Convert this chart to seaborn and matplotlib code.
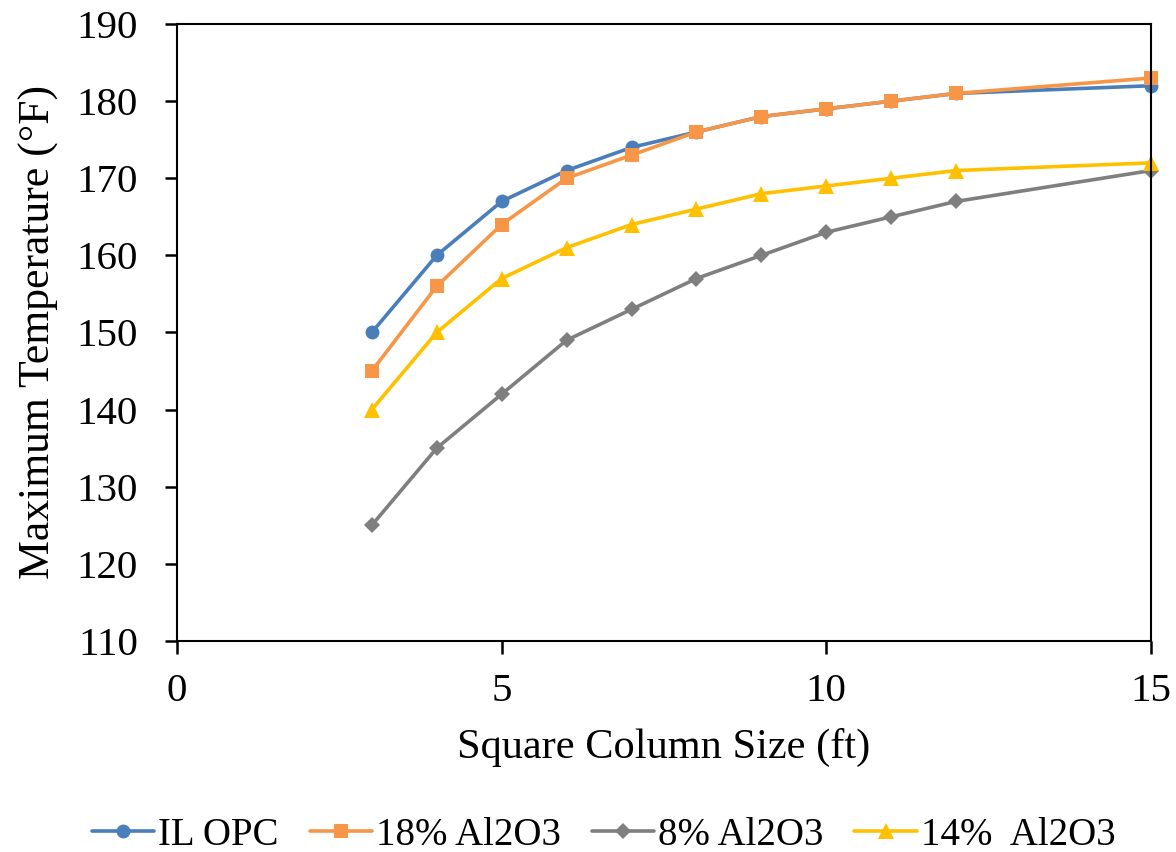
import matplotlib
matplotlib.use("Agg")
import matplotlib.pyplot as plt
import seaborn as sns
import pandas as pd

sizes = [3, 4, 5, 6, 7, 8, 9, 10, 11, 12, 15]
il_opc = [150, 160, 167, 171, 174, 176, 178, 179, 180, 181, 182]
al18 = [145, 156, 164, 170, 173, 176, 178, 179, 180, 181, 183]
al8 = [125, 135, 142, 149, 153, 157, 160, 163, 165, 167, 171]
al14 = [140, 150, 157, 161, 164, 166, 168, 169, 170, 171, 172]
names = ["IL OPC", "18% Al2O3", "8% Al2O3", "14%  Al2O3"]
x_ticks = [0, 5, 10, 15]
y_ticks = [110, 120, 130, 140, 150, 160, 170, 180, 190]

sns.set_theme(style="ticks")
plt.rcParams["font.family"] = ["Liberation Serif", "DejaVu Serif"]
plt.rcParams["text.color"] = "black"
plt.rcParams["axes.labelcolor"] = "black"

fig = plt.figure(figsize=(11.76, 8.52), dpi=100)
ax = fig.add_axes([0.1505, 0.2477, 0.8282, 0.7241])

series = [il_opc, al18, al8, al14]
colors = ["#4A7EBB", "#F79646", "#7F7F7F", "#FFC000"]
markers = ["o", "s", "D", "^"]
msizes = [10, 10, 8, 11]
for name, vals, c, m, ms in zip(names, series, colors, markers, msizes):
    df = pd.DataFrame({"x": sizes, "y": vals})
    sns.lineplot(data=df, x="x", y="y", ax=ax, color=c, marker=m, markersize=ms,
                 markeredgewidth=0, linewidth=2.6, label=name, clip_on=False)

ax.set_xlim(0, 15)
ax.set_ylim(110, 190)
ax.set_xticks(x_ticks)
ax.set_yticks(y_ticks)
ax.tick_params(axis="both", which="major", labelsize=29.5, labelcolor="black",
               direction="out", length=9, width=1.8, color="black")
ax.tick_params(axis="x", pad=14)
ax.tick_params(axis="y", pad=19)
ax.set_xlabel("Square Column Size (ft)", fontsize=30.5)
ax.set_ylabel("Maximum Temperature (°F)", fontsize=31.5)
ax.yaxis.set_label_coords(-0.121, 0.5)
ax.xaxis.set_label_coords(0.5, -0.141)
for s in ax.spines.values():
    s.set_visible(True)
    s.set_color("black")
    s.set_linewidth(1.5)

leg = ax.legend(loc="center", bbox_to_anchor=(0.5 - 0.062, -0.315), ncol=4, frameon=False,
                fontsize=28, handlelength=1.6, handletextpad=0.1, columnspacing=0.8,
                borderaxespad=0)

fig.savefig("out.png", dpi=100)
